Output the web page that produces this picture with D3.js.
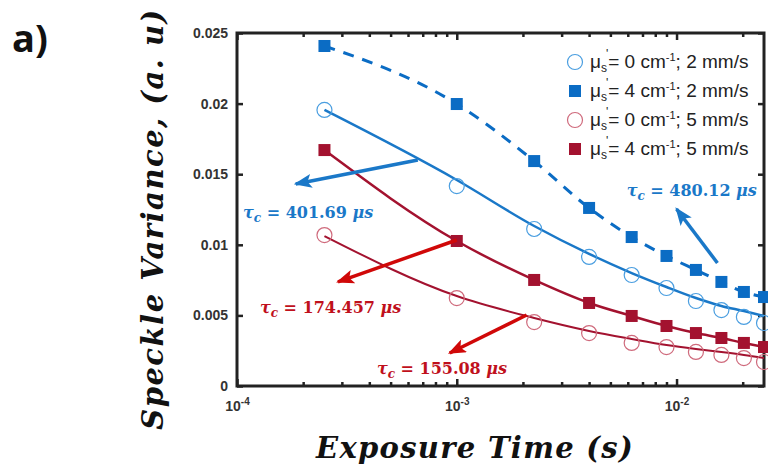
<!DOCTYPE html>
<html>
<head>
<meta charset="utf-8">
<script src="https://cdn.jsdelivr.net/npm/d3@7"></script>
<style>
  body { margin: 0; background: #fff; }
  svg { display: block; }
  .tick text { font-family: "Liberation Sans", Arial, sans-serif; font-weight: bold; font-size: 14px; fill: #333; }
  .math { font-family: "DejaVu Serif", serif; font-weight: bold; font-style: italic; }
</style>
</head>
<body>
<div id="vis"></div>
<script>
// exposure times (s)
var expTime = [0.00025, 0.001, 0.00225, 0.004, 0.00625, 0.009, 0.01225, 0.016, 0.02025, 0.025];

// measured speckle variance
var blueCircle = [0.01955, 0.01416, 0.01112, 0.00914, 0.00786, 0.00694, 0.00602, 0.00538, 0.00489, 0.00446];
var blueSquare = [0.02408, 0.01997, 0.01593, 0.01261, 0.01055, 0.00921, 0.00822, 0.00737, 0.00666, 0.00630];
var redCircle  = [0.01069, 0.00623, 0.00453, 0.00375, 0.00305, 0.00276, 0.00241, 0.00220, 0.00198, 0.00170];
var redSquare  = [0.01671, 0.01027, 0.00751, 0.00588, 0.00496, 0.00425, 0.00375, 0.00340, 0.00305, 0.00276];

// fitted curves
var fitBlueCircle = [0.01955, 0.01459, 0.01133, 0.00935, 0.00800, 0.00701, 0.00623, 0.00567, 0.00531, 0.00496];
var fitRedCircle  = [0.01062, 0.00637, 0.00482, 0.00390, 0.00333, 0.00290, 0.00262, 0.00241, 0.00220, 0.00198];

var yTicks = [0, 0.005, 0.01, 0.015, 0.02, 0.025];
var yTickLabels = ["0", "0.005", "0.01", "0.015", "0.02", "0.025"];
var xTicks = [1e-4, 1e-3, 1e-2];
var xTickExp = ["-4", "-3", "-2"];

var legendLabels = [
  {mu: "0", v: "2", kind: "circle", color: "#4a9ee0"},
  {mu: "4", v: "2", kind: "square", color: "#0b6cc4"},
  {mu: "0", v: "5", kind: "circle", color: "#cf6a7c"},
  {mu: "4", v: "5", kind: "square", color: "#a3122f"}
];

// annotations: arrow tail/head and label in data units
var notes = [
  {from: [6.65e-4, 0.0160], to: [1.85e-4, 0.01431], at: [1.065e-4, 0.0119], value: "401.69", color: "#1a78c8", arrow: "#1a78c8"},
  {from: [0.01535, 0.00871], to: [0.0100, 0.01254], at: [0.00593, 0.01346], value: "480.12", color: "#1a78c8", arrow: "#1a78c8"},
  {from: [0.001, 0.01034], to: [2.88e-4, 0.00737], at: [1.272e-4, 0.00517], value: "174.457", color: "#c0101c", arrow: "#d00808"},
  {from: [2.08e-3, 0.00503], to: [9.29e-4, 0.00234], at: [4.33e-4, 0.00085], value: "155.08", color: "#c0101c", arrow: "#d00808"}
];

var width = 768, height = 475;
var margin = {left: 237, right: 4, top: 33, bottom: 89};

var svg = d3.select('#vis').append('svg')
  .attr('width', width)
  .attr('height', height);

var x = d3.scaleLog().domain([1e-4, 0.025]).range([margin.left, width - margin.right]);
var y = d3.scaleLinear().domain([0, 0.025]).range([height - margin.bottom, margin.top]);

var defs = svg.append('defs');
['#1a78c8', '#d00808'].forEach(function (c, i) {
  defs.append('marker')
    .attr('id', 'arrow' + i)
    .attr('markerUnits', 'userSpaceOnUse')
    .attr('markerWidth', 18).attr('markerHeight', 14)
    .attr('refX', 16).attr('refY', 7)
    .attr('orient', 'auto')
    .append('path')
    .attr('d', 'M0,0 L18,7 L0,14 L4,7 Z')
    .attr('fill', c);
});

// minor log ticks
var minor = [];
[1e-4, 1e-3, 1e-2].forEach(function (d) {
  for (var k = 2; k <= 9; k++) if (d * k <= 0.025) minor.push(d * k);
});

var plotH = height - margin.bottom - margin.top;
var plotW = width - margin.right - margin.left;

function noLabels(a) { return a.tickFormat(''); }

// bottom and top ticks (inward)
svg.append('g').attr('transform', 'translate(0,' + (height - margin.bottom) + ')')
  .call(noLabels(d3.axisBottom(x).tickValues(minor).tickSizeInner(-4).tickSizeOuter(0)));
svg.append('g').attr('transform', 'translate(0,' + margin.top + ')')
  .call(noLabels(d3.axisTop(x).tickValues(minor).tickSizeInner(-4).tickSizeOuter(0)));
svg.append('g').attr('transform', 'translate(0,' + margin.top + ')')
  .call(noLabels(d3.axisTop(x).tickValues(xTicks).tickSizeInner(-7).tickSizeOuter(0)));

var xAxis = svg.append('g').attr('transform', 'translate(0,' + (height - margin.bottom) + ')')
  .call(d3.axisBottom(x).tickValues(xTicks).tickSizeInner(-7).tickSizeOuter(0).tickPadding(15));
xAxis.selectAll('.tick text').each(function (d, i) {
  var t = d3.select(this).text('');
  t.append('tspan').text('10');
  t.append('tspan').attr('dy', -6).style('font-size', '10px').text(xTickExp[i]);
});

var yAxis = svg.append('g').attr('transform', 'translate(' + margin.left + ',0)')
  .call(d3.axisLeft(y).tickValues(yTicks).tickSizeInner(-6).tickSizeOuter(0).tickPadding(9)
    .tickFormat(function (d, i) { return yTickLabels[i]; }));
svg.append('g').attr('transform', 'translate(' + (width - margin.right) + ',0)')
  .call(noLabels(d3.axisRight(y).tickValues(yTicks).tickSizeInner(-6).tickSizeOuter(0)));

svg.selectAll('.domain').remove();
svg.selectAll('.tick line').attr('stroke', '#222').attr('stroke-width', 2.5);

// frame
svg.append('rect')
  .attr('x', margin.left).attr('y', margin.top)
  .attr('width', plotW).attr('height', plotH)
  .attr('fill', 'none').attr('stroke', '#222').attr('stroke-width', 3);

function pts(vals) { return expTime.map(function (t, i) { return [t, vals[i]]; }); }

var line = d3.line()
  .x(function (d) { return x(d[0]); })
  .y(function (d) { return y(d[1]); })
  .curve(d3.curveMonotoneX);

svg.append('path').datum(pts(blueSquare)).attr('d', line)
  .attr('fill', 'none').attr('stroke', '#0b6cc4').attr('stroke-width', 3).attr('stroke-dasharray', '11,9');
svg.append('path').datum(pts(fitBlueCircle)).attr('d', line)
  .attr('fill', 'none').attr('stroke', '#1a78c8').attr('stroke-width', 2.5);
svg.append('path').datum(pts(redSquare)).attr('d', line)
  .attr('fill', 'none').attr('stroke', '#a3122f').attr('stroke-width', 2.5);
svg.append('path').datum(pts(fitRedCircle)).attr('d', line)
  .attr('fill', 'none').attr('stroke', '#a3122f').attr('stroke-width', 2);

function drawCircles(vals, color) {
  svg.append('g').selectAll('circle').data(pts(vals)).enter().append('circle')
    .attr('cx', function (d) { return x(d[0]); })
    .attr('cy', function (d) { return y(d[1]); })
    .attr('r', 7.5)
    .attr('fill', 'none').attr('stroke', color).attr('stroke-width', 1.2);
}
function drawSquares(vals, color) {
  svg.append('g').selectAll('rect').data(pts(vals)).enter().append('rect')
    .attr('x', function (d) { return x(d[0]) - 6; })
    .attr('y', function (d) { return y(d[1]) - 6; })
    .attr('width', 12).attr('height', 12)
    .attr('fill', color);
}
drawCircles(blueCircle, '#4a9ee0');
drawSquares(blueSquare, '#0b6cc4');
drawCircles(redCircle, '#cf6a7c');
drawSquares(redSquare, '#a3122f');

// annotations
notes.forEach(function (n) {
  var idx = n.arrow === '#1a78c8' ? 0 : 1;
  svg.append('line')
    .attr('x1', x(n.from[0])).attr('y1', y(n.from[1]))
    .attr('x2', x(n.to[0])).attr('y2', y(n.to[1]))
    .attr('stroke', n.arrow).attr('stroke-width', 3.5)
    .attr('marker-end', 'url(#arrow' + idx + ')');
  var t = svg.append('text').attr('class', 'math')
    .attr('x', x(n.at[0])).attr('y', y(n.at[1]))
    .attr('fill', n.color).style('font-size', '16px');
  t.append('tspan').text('τ');
  t.append('tspan').attr('dy', 4).style('font-size', '12px').text('c');
  t.append('tspan').attr('dy', -4).text(' = ');
  t.append('tspan').style('font-style', 'normal').text(n.value);
  t.append('tspan').text(' μs');
});

// legend
var lg = svg.append('g').attr('transform', 'translate(' + (width - margin.right - 189) + ',' + (margin.top + 29) + ')');
legendLabels.forEach(function (d, i) {
  var row = lg.append('g').attr('transform', 'translate(0,' + (i * 29) + ')');
  if (d.kind === 'circle') {
    row.append('circle').attr('r', 7.5).attr('fill', 'none').attr('stroke', d.color).attr('stroke-width', 1.2);
  } else {
    row.append('rect').attr('x', -6).attr('y', -6).attr('width', 12).attr('height', 12).attr('fill', d.color);
  }
  var t = row.append('text').attr('x', 15).attr('y', 6)
    .style('font-family', '"Liberation Sans", Arial, sans-serif').style('font-size', '19px').attr('fill', '#222');
  t.append('tspan').text('μ');
  t.append('tspan').attr('dy', 4).style('font-size', '12px').text('s');
  t.append('tspan').attr('dx', -1).attr('dy', -14).style('font-size', '12px').text("'");
  t.append('tspan').attr('dy', 10).text('= ' + d.mu + ' cm');
  t.append('tspan').attr('dy', -7).style('font-size', '11px').text('-1');
  t.append('tspan').attr('dy', 7).text('; ' + d.v + ' mm/s');
});

// axis titles
svg.append('text').attr('class', 'math')
  .attr('x', 475).attr('y', 458)
  .attr('text-anchor', 'middle').style('font-size', '29px').style('letter-spacing', '1.3px').attr('fill', '#111')
  .text('Exposure Time (s)');

svg.append('text').attr('class', 'math')
  .attr('transform', 'translate(163,219) rotate(-90)')
  .attr('text-anchor', 'middle').style('font-size', '29px').style('letter-spacing', '1.5px').attr('fill', '#111')
  .text('Speckle Variance, (a. u)');

svg.append('text')
  .attr('x', 12).attr('y', 52)
  .style('font-family', '"Open Sans", sans-serif').style('font-weight', 'bold').style('font-size', '38px')
  .attr('fill', '#111')
  .text('a)');
</script>
</body>
</html>
